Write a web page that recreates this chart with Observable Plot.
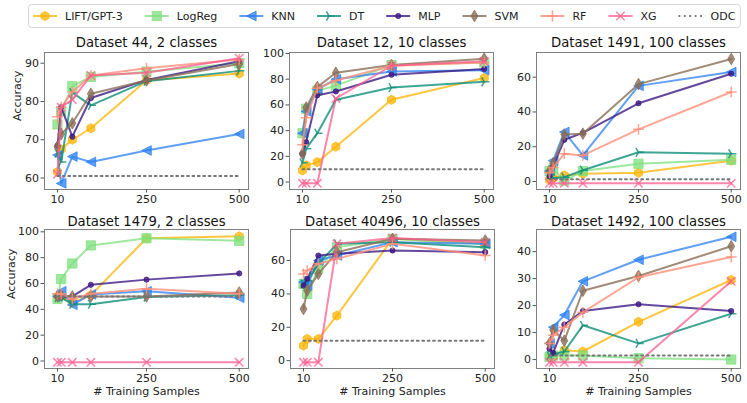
<!DOCTYPE html>
<html><head><meta charset="utf-8">
<script src="https://cdn.jsdelivr.net/npm/d3@7"></script>
<script src="https://cdn.jsdelivr.net/npm/@observablehq/plot@0.6"></script>
<style>
body{margin:0;background:#fff;font-family:"DejaVu Sans",sans-serif;}
#wrap{position:relative;width:747px;height:403px;overflow:hidden;background:#fff;}
</style></head><body><div id="wrap"></div>
<script>
// ---- data ----
const samples = [10, 20, 50, 100, 250, 500];
const xTicks = [10, 250, 500];
const methods = ["LIFT/GPT-3", "LogReg", "KNN", "DT", "MLP", "SVM", "RF", "XG"];
const titles = ["Dataset 44, 2 classes", "Dataset 12, 10 classes", "Dataset 1491, 100 classes",
                "Dataset 1479, 2 classes", "Dataset 40496, 10 classes", "Dataset 1492, 100 classes"];
const odc = [60.5, 10, 1.3, 50, 12, 1.5];
const yTicks44 = [60, 70, 80, 90];
const yTicks12 = [0, 20, 40, 60, 80, 100];
const yTicks1491 = [0, 20, 40, 60];
const yTicks1479 = [0, 20, 40, 60, 80, 100];
const yTicks40496 = [0, 20, 40, 60];
const yTicks1492 = [0, 10, 20, 30, 40];

const acc44 = [
  [61.6, 67.5, 70, 73, 85.5, 87.3],
  [74, 77.5, 84, 86.4, 87.8, 90],
  [66, 58.6, 65.6, 64.2, 67.2, 71.5],
  [66.5, 64.2, 82.3, 79, 85.3, 88],
  [68.5, 78.5, 70.8, 80.9, 85.6, 90.5],
  [68.2, 71.5, 74.3, 82, 85.5, 89.8],
  [76, 78.5, 82.5, 86.8, 88.7, 91],
  [61, 78.5, 80.5, 86.8, 87.5, 91.3]
];
const acc12 = [
  [9, 13, 15.5, 27.5, 64, 81],
  [38, 57, 71, 75, 91, 93],
  [38, 55, 72, 80, 86, 87],
  [15, 26, 38, 64, 73.5, 78],
  [22, 31, 67.5, 70.5, 83.5, 88],
  [22, 58, 74, 85, 91, 96],
  [29, 50, 73, 79, 90.5, 93],
  [-1, -1, -1, 65, 90.5, 94]
];
const acc1491 = [
  [1, 2, 3.5, 4.5, 5, 12],
  [6, 7, 0.5, 6, 10.2, 12.5],
  [6, 12, 28.5, 15, 55, 63],
  [4, 2, 2.5, 6.5, 16.8, 16],
  [3, 9, 24, 28, 45, 62],
  [6, 10.5, 27, 27.5, 56, 70.5],
  [5, 8, 16, 15, 30, 51.5],
  [-1, -1, -1, -1, -1, -1]
];
const acc1479 = [
  [50, 50, 45, 51, 95, 96.5],
  [48, 63.5, 75.5, 89.5, 95, 93],
  [50, 54, 43.5, 51.5, 54, 49],
  [49, 49, 44, 44, 49.5, 51],
  [50, 50, 50, 59, 63, 67.8],
  [50, 51, 50, 50, 50, 53],
  [52, 52, 48, 52, 56, 52],
  [-1, -1, -1, -1, -1, -1]
];
const acc40496 = [
  [9, 13, 13, 27, 73, 70],
  [46, 40, 55, 68, 73, 70],
  [47, 45, 60, 63, 71, 70],
  [46, 48, 58, 70, 71, 68],
  [45, 49, 63, 64, 66, 65],
  [31, 42, 52, 65, 73, 72],
  [52, 54, 58, 61, 70, 63],
  [-1, -1, -1, 70, 73.5, 71]
];
const acc1492 = [
  [1, 1, 3.5, 3, 14, 29.5],
  [1, 1.5, 1.5, 1.5, 0.5, 0],
  [6, 12, 16.5, 29, 37, 45.5],
  [1.5, 2, 3, 12.7, 6, 17],
  [4, 2.5, 13, 18, 20.5, 18],
  [6, 11, 7, 25.5, 31, 42],
  [6, 9, 12, 17.5, 30.5, 38],
  [-1, -1, -1, -1, -1, 29]
];

// ---- styles ----
const colors = ["#ffb300", "#7ee07e", "#2a7ff0", "#0f8f7b", "#3d1a85", "#8a6e58", "#ff8f78", "#ff5c8f"];
const alphas = [0.75, 0.75, 0.75, 0.8, 0.8, 0.8, 0.8, 0.75];
const R = (s) => Math.sqrt(s / Math.PI);
const symHex = {draw(c, s){const r=R(s); for(let k=0;k<6;k++){const a=(-90+60*k)*Math.PI/180; const px=r*Math.cos(a), py=r*Math.sin(a); k?c.lineTo(px,py):c.moveTo(px,py);} c.closePath();}};
const symSquare = {draw(c, s){const r=R(s); c.moveTo(-r,-r); c.lineTo(r,-r); c.lineTo(r,r); c.lineTo(-r,r); c.closePath();}};
const symTriLeft = {draw(c, s){const r=R(s); c.moveTo(-r,0); c.lineTo(r,-r); c.lineTo(r,r); c.closePath();}};
const symTriRight = {draw(c, s){const r=R(s); c.moveTo(0,0); c.lineTo(r,0); c.moveTo(0,0); c.lineTo(-0.5*r,-0.866*r); c.moveTo(0,0); c.lineTo(-0.5*r,0.866*r);}};
const symCircle = {draw(c, s){const r=R(s); c.moveTo(r,0); c.arc(0,0,r,0,2*Math.PI); c.closePath();}};
const symThinDiamond = {draw(c, s){const r=R(s); c.moveTo(0,-r); c.lineTo(0.6*r,0); c.lineTo(0,r); c.lineTo(-0.6*r,0); c.closePath();}};
const symPlus = {draw(c, s){const r=R(s); c.moveTo(-r,0); c.lineTo(r,0); c.moveTo(0,-r); c.lineTo(0,r);}};
const symTimes = {draw(c, s){const r=R(s); c.moveTo(-r,-r); c.lineTo(r,r); c.moveTo(-r,r); c.lineTo(r,-r);}};
const symbols = [symHex, symSquare, symTriLeft, symTriRight, symCircle, symThinDiamond, symPlus, symTimes];
const sizes = [4.6, 4.6, 4.8, 5.2, 2.6, 5.8, 5.4, 4.2];
const filled = [true, true, true, false, true, true, false, false];
const odcColor = "#777777";
const odcDash = "1.8,3.6";

const wrap = document.getElementById("wrap");

// ---- panels ----
const FW = 204, mL = 46, mR = 8, mT = 24, mB = 32;
const panels = [
  {data: acc44, domain: [57, 92.8], ticks: yTicks44, left: 43.5, top: 52, h: 137, row: 0, col: 0},
  {data: acc12, domain: [-5.8, 100.8], ticks: yTicks12, left: 289, top: 52, h: 137, row: 0, col: 1},
  {data: acc1491, domain: [-4.6, 74.2], ticks: yTicks1491, left: 536, top: 52, h: 137, row: 0, col: 2},
  {data: acc1479, domain: [-5.8, 101.8], ticks: yTicks1479, left: 43.5, top: 229, h: 139, row: 1, col: 0},
  {data: acc40496, domain: [-4.7, 78.6], ticks: yTicks40496, left: 290, top: 229, h: 139, row: 1, col: 1},
  {data: acc1492, domain: [-3.3, 48.2], ticks: yTicks1492, left: 536, top: 229, h: 139, row: 1, col: 2}
];

panels.forEach((P, pi) => {
  const marks = [Plot.frame({stroke: "#7f7f7f", strokeWidth: 1})];
  methods.forEach((m, k) => {
    const d = samples.map((s, i) => ({method: m, x: s, y: P.data[k][i]}));
    marks.push(Plot.line(d, {x: "x", y: "y", stroke: colors[k], strokeWidth: 2, strokeOpacity: alphas[k]}));
    marks.push(Plot.dot(d, {
      x: "x", y: "y", symbol: symbols[k], r: sizes[k],
      fill: filled[k] ? colors[k] : "none", fillOpacity: alphas[k],
      stroke: colors[k], strokeOpacity: alphas[k], strokeWidth: filled[k] ? 1 : 1.5
    }));
  });
  marks.push(Plot.line(samples.map(s => ({x: s, y: odc[pi]})), {x: "x", y: "y", stroke: odcColor, strokeWidth: 2, strokeDasharray: odcDash}));
  marks.push(Plot.axisX({ticks: xTicks, tickSize: 3.5, tickPadding: 2.5, label: null, fontSize: 11, stroke: "#555", fill: "#222"}));
  marks.push(Plot.axisY({ticks: P.ticks, tickSize: 3.5, tickPadding: 2, label: null, fontSize: 11, stroke: "#555", fill: "#222"}));
  marks.push(Plot.text([titles[pi]], {frameAnchor: "top", lineAnchor: "middle", dy: P.row === 0 ? -9.5 : -7.5, fontSize: 13.2, fill: "#111"}));
  if (P.col === 0) marks.push(Plot.text(["Accuracy"], {frameAnchor: "left", lineAnchor: "middle", dx: P.row === 0 ? -27 : -33, rotate: -90, fontSize: 11, fill: "#222"}));
  if (P.row === 1) marks.push(Plot.text(["# Training Samples"], {frameAnchor: "bottom", lineAnchor: "middle", dy: 23, fontSize: 11, fill: "#222"}));
  const svg = Plot.plot({
    width: FW + mL + mR, height: P.h + mT + mB,
    marginLeft: mL, marginRight: mR, marginTop: mT, marginBottom: mB,
    x: {domain: [-25, 525]},
    y: {domain: P.domain},
    style: {fontFamily: "DejaVu Sans, sans-serif", fontSize: "11px", background: "transparent", overflow: "visible"},
    marks
  });
  svg.style.position = "absolute";
  svg.style.left = (P.left - mL) + "px";
  svg.style.top = (P.top - mT) + "px";
  svg.style.maxWidth = "none";
  wrap.appendChild(svg);
});

// ---- legend ----
const lsvg = d3.select(wrap).append("svg").attr("width", 747).attr("height", 32)
  .style("position", "absolute").style("left", "0px").style("top", "0px")
  .style("font-family", "DejaVu Sans, sans-serif").style("font-size", "11px");
const box = lsvg.append("rect").attr("x", 28.5).attr("y", 4.5).attr("height", 23).attr("rx", 3)
  .attr("fill", "white").attr("stroke", "#d4d4d4");
let lx = 33;
const ly = 16;
const legendItems = methods.concat(["ODC"]);
legendItems.forEach((name, k) => {
  const g = lsvg.append("g");
  if (k < methods.length) {
    g.append("line").attr("x1", lx).attr("x2", lx + 24).attr("y1", ly).attr("y2", ly)
      .attr("stroke", colors[k]).attr("stroke-width", 2).attr("stroke-opacity", alphas[k]);
    const p = d3.path();
    const rr = sizes[k];
    symbols[k].draw(p, rr * rr * Math.PI);
    g.append("path").attr("d", p.toString()).attr("transform", `translate(${lx + 12},${ly})`)
      .attr("fill", filled[k] ? colors[k] : "none").attr("fill-opacity", alphas[k])
      .attr("stroke", colors[k]).attr("stroke-opacity", alphas[k]).attr("stroke-width", filled[k] ? 1 : 1.5);
  } else {
    g.append("line").attr("x1", lx).attr("x2", lx + 24).attr("y1", ly).attr("y2", ly)
      .attr("stroke", odcColor).attr("stroke-width", 2).attr("stroke-dasharray", odcDash);
  }
  const t = g.append("text").attr("x", lx + 32).attr("y", ly).attr("dy", "0.35em").attr("fill", "#222").text(name);
  const w = t.node().getComputedTextLength();
  lx += 32 + w + 22;
});
box.attr("width", lx - 22 + 5 - 28.5);
</script></body></html>
